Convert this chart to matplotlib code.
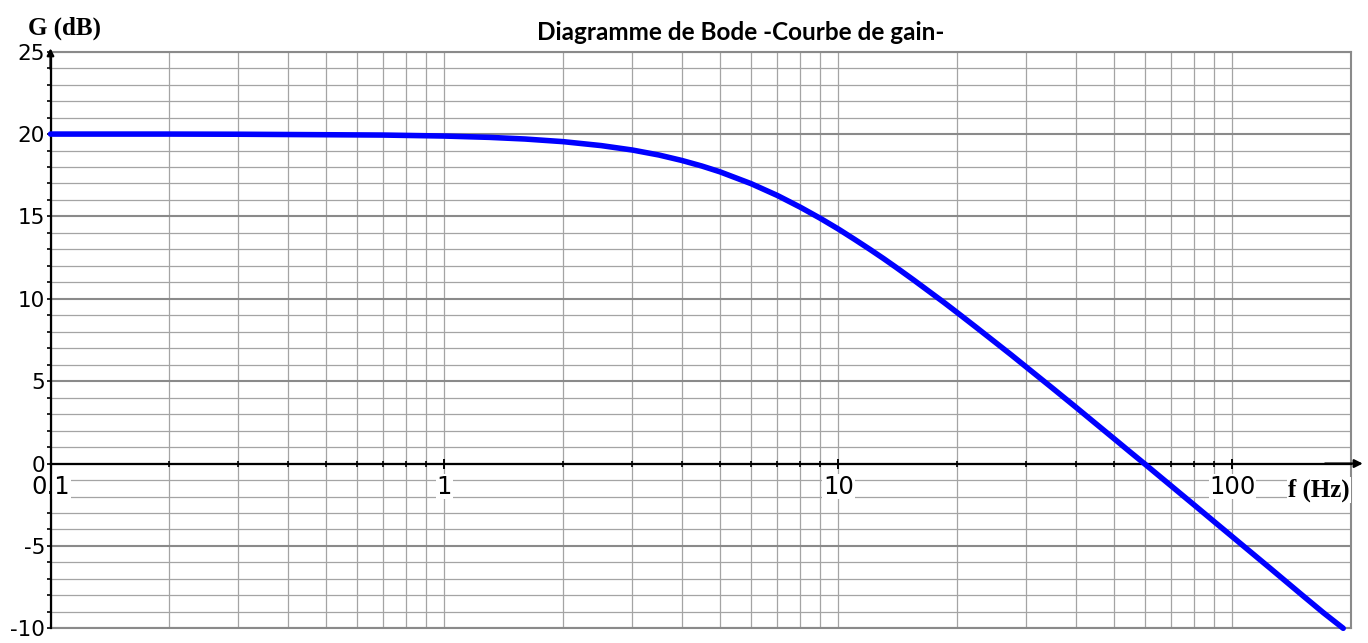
import matplotlib
matplotlib.use("Agg")
import matplotlib.pyplot as plt
from matplotlib.ticker import FixedLocator, LogLocator, MultipleLocator, NullFormatter

plt.rcParams["axes.unicode_minus"] = False

# ---- data ----
freq_hz = [0.1, 0.2, 0.3, 0.5, 0.7, 1, 1.3, 1.6, 2, 2.5, 3, 3.5, 4, 4.5, 5, 6,
           7, 8, 9, 10, 11, 12, 13, 14, 15.5, 17, 18.5, 20, 22.5, 25, 27.5, 30,
           35, 40, 45, 50, 55, 60, 70, 80, 90, 100, 125, 150, 170, 191]
gain_db = [20.0, 20.0, 19.99, 19.96, 19.94, 19.88, 19.8, 19.7, 19.54, 19.3,
           19.03, 18.73, 18.4, 18.06, 17.71, 16.99, 16.27, 15.56, 14.88, 14.23,
           13.6, 13.01, 12.45, 11.91, 11.15, 10.44, 9.79, 9.17, 8.22, 7.36,
           6.58, 5.85, 4.56, 3.43, 2.42, 1.52, 0.7, -0.04, -1.37, -2.52, -3.54,
           -4.45, -6.38, -7.97, -9.05, -10.0]
x_tick_values = [0.1, 1, 10, 100]
x_tick_labels = ["0.1", "1", "10", "100"]
y_tick_values = [-10, -5, 0, 5, 10, 15, 20, 25]
title_text = "Diagramme de Bode -Courbe de gain-"
y_label_text = "G (dB)"
x_label_text = "f (Hz)"

W, H = 1368, 643
fig = plt.figure(figsize=(W / 100, H / 100), dpi=100)
ax = fig.add_axes([50.5 / W, (H - 628.3) / H, 1300.6 / W, 576.6 / H])

ax.set_xscale("log")
ax.set_xlim(0.1, 200)
ax.set_ylim(-10, 25)

minor_c = "#a4a4a4"
major_c = "#8a8a8a"

ax.xaxis.set_major_locator(FixedLocator(x_tick_values))
ax.xaxis.set_minor_locator(LogLocator(base=10, subs=[2, 3, 4, 5, 6, 7, 8, 9]))
ax.xaxis.set_major_formatter(NullFormatter())
ax.xaxis.set_minor_formatter(NullFormatter())
ax.yaxis.set_major_locator(FixedLocator(y_tick_values))
ax.yaxis.set_minor_locator(MultipleLocator(1))

ax.grid(which="minor", color=minor_c, lw=0.9)
ax.grid(which="major", axis="x", color=minor_c, lw=0.9)
ax.grid(which="major", axis="y", color=major_c, lw=1.5)
ax.axhline(-10, color=major_c, lw=1.5, clip_on=False, zorder=1.6)

for s in ("top", "right"):
    ax.spines[s].set_color(major_c)
    ax.spines[s].set_linewidth(1.5)
ax.spines["left"].set_color("black")
ax.spines["left"].set_linewidth(1.6)
ax.spines["bottom"].set_position(("data", 0))
ax.spines["bottom"].set_color("black")
ax.spines["bottom"].set_linewidth(1.6)

ax.tick_params(axis="x", which="major", direction="inout", length=7, width=1.4)
ax.tick_params(axis="x", which="minor", direction="inout", length=4, width=1.2)
ax.tick_params(axis="y", which="both", direction="out", length=3, width=1.2,
               pad=1.0)
ax.tick_params(axis="y", which="major", labelsize=15.5)
for lbl in ax.get_yticklabels():
    lbl.set_family("DejaVu Sans")

# x tick labels just below the y=0 axis, on white boxes
for v, t in zip(x_tick_values, x_tick_labels):
    ax.annotate(t, xy=(v, 0), xytext=(0, -8), textcoords="offset points",
                ha="center", va="top", fontsize=17.5, family="DejaVu Sans",
                bbox=dict(facecolor="white", edgecolor="none", pad=0.5),
                annotation_clip=False, zorder=2)

# curve
ax.plot(freq_hz, gain_db, color="#0000ff", lw=4, solid_capstyle="round",
        solid_joinstyle="round", zorder=3, clip_on=False)

# axis arrows
ax.annotate("", xy=(1.009, 0), xycoords=("axes fraction", "data"),
            xytext=(0.98, 0), textcoords=("axes fraction", "data"),
            arrowprops=dict(arrowstyle="-|>", color="black", lw=1.6,
                            mutation_scale=12, shrinkA=0, shrinkB=0),
            annotation_clip=False)
ax.annotate("", xy=(0, 1.006), xycoords="axes fraction",
            xytext=(0, 0.97), textcoords="axes fraction",
            arrowprops=dict(arrowstyle="-|>", color="black", lw=1.6,
                            mutation_scale=10, shrinkA=0, shrinkB=0),
            annotation_clip=False)

# labels
fig.text(741 / W, 1 - 32 / H, title_text, ha="center", va="center",
         fontsize=17.5, fontweight="bold", family="Lato")
fig.text(65 / W, 1 - 28 / H, y_label_text, ha="center", va="center",
         fontsize=18, fontweight="bold", family="Liberation Serif")
fig.text(1319 / W, 1 - 490 / H, x_label_text, ha="center", va="center",
         fontsize=18, fontweight="bold", family="Liberation Serif",
         bbox=dict(facecolor="white", edgecolor="none", pad=1))

fig.savefig("out.png", dpi=100, facecolor="white")
